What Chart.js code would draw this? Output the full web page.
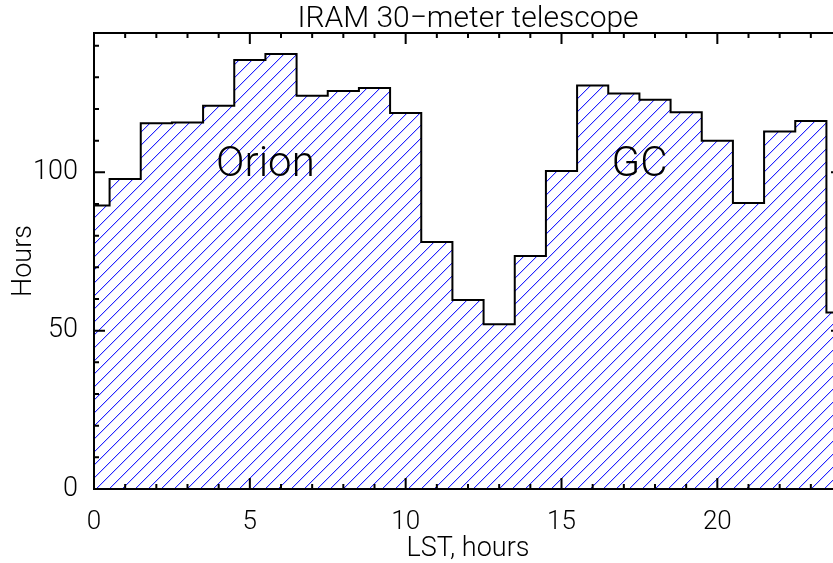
<!DOCTYPE html>
<html>
<head>
<meta charset="utf-8">
<script src="https://cdn.jsdelivr.net/npm/chart.js@4/dist/chart.umd.min.js"></script>
<style>
  html, body { margin: 0; padding: 0; background: #fff; overflow: hidden; }
  #wrap { width: 833px; height: 563px; overflow: hidden; }
  #wrap canvas { display: block; }
</style>
</head>
<body>
<div id="wrap"><canvas id="lstChart" width="846" height="563"></canvas></div>
<script>
// LST bin centres (hours) and observed time per bin (hours)
var lstHours = [0, 1, 2, 3, 4, 5, 6, 7, 8, 9, 10, 11, 12, 13, 14, 15, 16, 17, 18, 19, 20, 21, 22, 23, 24];
var observedHours = [89.5, 97.9, 115.5, 115.7, 121.0, 135.5, 137.4, 124.2, 125.7, 126.6, 118.7, 78.0,
                     59.7, 52.0, 73.6, 100.4, 127.4, 124.9, 122.9, 119.0, 110.0, 90.3, 112.9, 116.2, 55.7];
var xTickLabels = [0, 5, 10, 15, 20];
var yTickLabels = [0, 50, 100];
var sourceNames = ['Orion', 'GC'];
var sourceLst = [5.5, 17.5];
var sourceLevel = 99;

var FONT = 'Roboto, "Liberation Sans", sans-serif';

// diagonal blue hatching, one crisp pixel per row
function makeHatch() {
  var s = 13;
  var c = document.createElement('canvas');
  c.width = s; c.height = s;
  var g = c.getContext('2d');
  g.fillStyle = '#ffffff';
  g.fillRect(0, 0, s, s);
  for (var r = 0; r < s; r++) {
    g.fillStyle = 'rgb(35,35,255)';
    g.fillRect(s - 1 - r, r, 1, 1);
    g.fillStyle = 'rgb(205,205,255)';
    g.fillRect((s - r) % s, r, 1, 1);
  }
  return g.createPattern(c, 'repeat');
}

var frame = {
  id: 'frame',
  afterDatasetsDraw: function(chart) {
    var ctx = chart.ctx, xs = chart.scales.x, ys = chart.scales.y;
    ctx.save();
    ctx.fillStyle = '#000';
    ctx.font = '300 42px ' + FONT;
    ctx.textAlign = 'center';
    ctx.textBaseline = 'alphabetic';
    for (var i = 0; i < sourceNames.length; i++) {
      ctx.fillText(sourceNames[i], xs.getPixelForValue(sourceLst[i]), ys.getPixelForValue(sourceLevel));
    }
    ctx.restore();
  },
  afterDraw: function(chart) {
    var ctx = chart.ctx, a = chart.chartArea, xs = chart.scales.x, ys = chart.scales.y;
    ctx.save();
    ctx.strokeStyle = '#000';
    ctx.lineWidth = 2;
    ctx.strokeRect(a.left, a.top, a.right - a.left, a.bottom - a.top);
    ctx.beginPath();
    for (var h = 0; h <= 24; h++) {
      var px = xs.getPixelForValue(h);
      var len = h % 5 === 0 ? 11 : 5;
      ctx.moveTo(px, a.bottom); ctx.lineTo(px, a.bottom - len);
      ctx.moveTo(px, a.top); ctx.lineTo(px, a.top + len);
    }
    for (var v = 0; v <= 140; v += 10) {
      var py = ys.getPixelForValue(v);
      var l2 = v % 50 === 0 ? 11 : 5;
      ctx.moveTo(a.left, py); ctx.lineTo(a.left + l2, py);
      ctx.moveTo(a.right, py); ctx.lineTo(a.right - l2, py);
    }
    ctx.stroke();

    // title
    ctx.fillStyle = '#000';
    ctx.font = '300 30px ' + FONT;
    ctx.textAlign = 'center';
    ctx.textBaseline = 'alphabetic';
    ctx.fillText('IRAM 30\u2212meter telescope', (a.left + a.right) / 2, 27);
    ctx.restore();
  }
};

var ctx = document.getElementById('lstChart').getContext('2d');
var lstChart = new Chart(ctx, {
  type: 'line',
  data: {
    datasets: [{
      label: 'Hours',
      data: lstHours.map(function(h, i) { return { x: h, y: observedHours[i] }; }),
      stepped: 'middle',
      borderColor: '#000',
      borderWidth: 2,
      backgroundColor: makeHatch(),
      fill: 'origin',
      pointRadius: 0
    }]
  },
  options: {
    responsive: false,
    animation: false,
    layout: { padding: { top: 33, right: 4, left: 0, bottom: 0 } },
    plugins: {
      legend: { display: false },
      tooltip: { enabled: false },
      title: { display: false }
    },
    scales: {
      x: {
        type: 'linear',
        min: 0,
        max: 24,
        afterBuildTicks: function(s) { s.ticks = xTickLabels.map(function(v) { return { value: v }; }); },
        afterFit: function(s) { s.height = 74; },
        grid: { display: false, drawTicks: false },
        border: { display: false },
        ticks: { color: '#000', padding: 18, font: { family: FONT, size: 26, weight: '300' } },
        title: { display: true, text: 'LST, hours', color: '#000', padding: { top: 0, bottom: 0 },
                 font: { family: FONT, size: 27, weight: '300', lineHeight: 1.0 } }
      },
      y: {
        min: 0,
        max: 144,
        afterBuildTicks: function(s) { s.ticks = yTickLabels.map(function(v) { return { value: v }; }); },
        afterFit: function(s) { s.width = 94; },
        grid: { display: false, drawTicks: false },
        border: { display: false },
        ticks: { color: '#000', padding: 16, font: { family: FONT, size: 27, weight: '300' } },
        title: { display: true, text: 'Hours', color: '#000', padding: { top: 8, bottom: 0 },
                 font: { family: FONT, size: 27, weight: '300' } }
      }
    }
  },
  plugins: [frame]
});
</script>
</body>
</html>
